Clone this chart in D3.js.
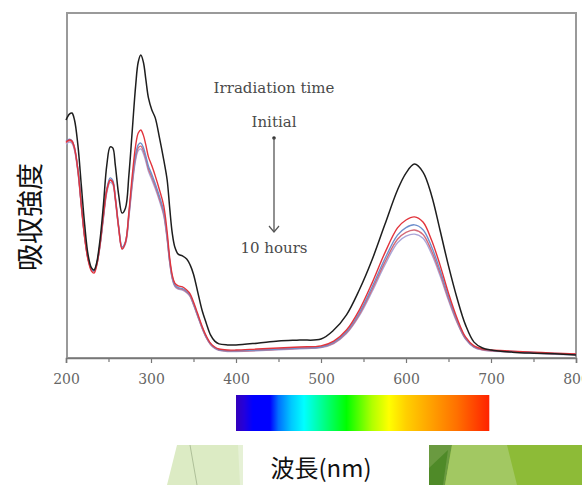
<!DOCTYPE html>
<html><head><meta charset="utf-8">
<script src="https://cdn.jsdelivr.net/npm/d3@7"></script>
<style>html,body{margin:0;padding:0;background:#fff;}svg{display:block;}</style>
</head><body>
<svg id="c" width="582" height="485"></svg>
<script>
// ---- data ----
const wavelengths = [200,204,207,210,214,218,222,226,230,233,236,240,244,248,252,255,258,262,266,270,274,278,282,285,288,291,294,297,301,305,310,315,319,322,325,328,332,337,342,346,350,355,360,365,370,375,380,390,400,425,450,475,500,515,530,545,560,575,590,600,610,620,630,640,650,660,670,680,690,700,725,750,775,800];
const absInitial = [0.690,0.707,0.710,0.690,0.617,0.501,0.386,0.299,0.261,0.255,0.275,0.342,0.443,0.559,0.612,0.609,0.559,0.472,0.420,0.435,0.530,0.661,0.791,0.858,0.878,0.858,0.806,0.754,0.719,0.696,0.638,0.574,0.516,0.435,0.362,0.322,0.301,0.296,0.287,0.270,0.243,0.191,0.139,0.101,0.067,0.049,0.041,0.038,0.038,0.043,0.049,0.052,0.055,0.081,0.125,0.197,0.284,0.386,0.487,0.536,0.562,0.539,0.472,0.371,0.267,0.174,0.096,0.046,0.029,0.023,0.017,0.014,0.012,0.009];
const absRed = [0.626,0.632,0.629,0.609,0.545,0.443,0.348,0.284,0.252,0.246,0.267,0.328,0.414,0.487,0.516,0.510,0.464,0.377,0.316,0.336,0.423,0.530,0.617,0.652,0.661,0.646,0.617,0.583,0.557,0.528,0.487,0.441,0.365,0.290,0.241,0.217,0.209,0.206,0.197,0.186,0.162,0.128,0.093,0.064,0.043,0.032,0.026,0.023,0.023,0.026,0.029,0.032,0.035,0.049,0.081,0.139,0.217,0.304,0.377,0.400,0.409,0.394,0.342,0.270,0.188,0.116,0.061,0.035,0.026,0.023,0.020,0.017,0.014,0.012];
const absBlue = [0.628,0.634,0.630,0.610,0.548,0.448,0.352,0.290,0.258,0.253,0.272,0.330,0.412,0.490,0.522,0.515,0.468,0.382,0.322,0.338,0.418,0.515,0.590,0.618,0.623,0.610,0.585,0.556,0.532,0.505,0.468,0.425,0.352,0.282,0.235,0.212,0.204,0.201,0.193,0.182,0.158,0.124,0.090,0.061,0.041,0.030,0.024,0.021,0.021,0.023,0.026,0.029,0.032,0.045,0.076,0.131,0.205,0.287,0.356,0.378,0.386,0.372,0.323,0.255,0.178,0.110,0.058,0.033,0.025,0.022,0.019,0.016,0.013,0.011];
const absPink = [0.624,0.630,0.626,0.606,0.543,0.444,0.350,0.288,0.257,0.252,0.270,0.327,0.408,0.484,0.515,0.509,0.462,0.378,0.319,0.335,0.413,0.508,0.582,0.609,0.614,0.601,0.577,0.548,0.524,0.498,0.461,0.418,0.347,0.279,0.232,0.210,0.202,0.199,0.191,0.180,0.156,0.122,0.088,0.060,0.040,0.029,0.023,0.020,0.020,0.022,0.025,0.028,0.031,0.043,0.073,0.126,0.198,0.277,0.344,0.364,0.371,0.358,0.311,0.246,0.172,0.106,0.056,0.032,0.024,0.021,0.018,0.015,0.012,0.010];
const absLavender = [0.620,0.626,0.622,0.602,0.539,0.440,0.347,0.286,0.256,0.251,0.268,0.324,0.404,0.479,0.509,0.503,0.457,0.374,0.316,0.331,0.408,0.502,0.575,0.601,0.606,0.593,0.569,0.541,0.517,0.491,0.455,0.412,0.343,0.276,0.230,0.208,0.200,0.197,0.189,0.178,0.154,0.120,0.087,0.059,0.039,0.028,0.022,0.019,0.019,0.021,0.024,0.027,0.030,0.042,0.071,0.122,0.192,0.269,0.334,0.353,0.359,0.347,0.302,0.239,0.167,0.103,0.055,0.031,0.023,0.020,0.017,0.014,0.011,0.009];
const seriesNames = ["10 h (lavender)","8 h","6 h","2 h","Initial"];
const seriesColors = ["#aaa6d8","#d46a78","#6e8fcc","#e2343c","#1e1e1e"];
const xTicks = [200,300,400,500,600,700,800];
const xMinorTicks = [250,350,450,550,650,750];
const spectrumNm = [400,410,420,440,450,465,480,500,530,560,580,600,630,660,698];
const spectrumColors = ["#3300bb","#2200dd","#0000ff","#0000ff","#0070ff","#00c8ff","#00ffff","#00ff99","#00ff00","#b0ff00","#ffff00","#ffd000","#ffa000","#ff7000","#ff2200"];
const yLabel = "吸収強度";
const xLabel = "波長(nm)";
const annTitle = "Irradiation time", annStart = "Initial", annEnd = "10 hours";

// ---- layout ----
const svg = d3.select("#c");
const x = d3.scaleLinear().domain([200, 800]).range([66, 576]);
const y = d3.scaleLinear().domain([0, 1]).range([358, 13]);

// decorative background shapes (slide theme)
const deco = svg.append("g");
deco.append("polygon").attr("points","177,445 243,445 243,485 167,485").attr("fill","#dcebc4");
deco.append("polygon").attr("points","238,445 243,445 243,485 240,485").attr("fill","#e6f1d6");
deco.append("line").attr("x1",190).attr("y1",445).attr("x2",197).attr("y2",485).attr("stroke","#aebf98").attr("stroke-width",1);
deco.append("rect").attr("x",429).attr("y",445).attr("width",153).attr("height",40).attr("fill","#8dbb37");
deco.append("polygon").attr("points","429,445 452,445 445,485 429,485").attr("fill","#6a9a40");
deco.append("polygon").attr("points","429,468 448,450 443,485 429,485").attr("fill","#4f8a28");
deco.append("polygon").attr("points","452,445 507,445 517,485 445,485").attr("fill","#a2c862");

// frame
svg.append("rect").attr("x",67).attr("y",13).attr("width",509).attr("height",345)
  .attr("fill","none").attr("stroke","#9a9a9a").attr("stroke-width",2);

// x axis
const gx = svg.append("g").attr("transform","translate(0,358)");
gx.call(d3.axisBottom(x).tickValues(xTicks).tickSize(5).tickFormat(d3.format("d")));
gx.append("g").call(d3.axisBottom(x).tickValues(xMinorTicks).tickSize(4).tickFormat(""))
  .select(".domain").remove();
gx.selectAll(".domain").attr("stroke","#777").attr("stroke-width",1.6);
gx.selectAll(".tick line").attr("stroke","#777").attr("stroke-width",1.2);
gx.selectAll(".tick text").attr("font-family","DejaVu Serif, serif").attr("font-size",14)
  .attr("fill","#666").attr("dy","0.9em").attr("y",13);

// curves
const allSeries = [absLavender, absPink, absBlue, absRed, absInitial];
const line = d3.line().x((d,i)=>x(wavelengths[i])).y(d=>y(d)).curve(d3.curveCatmullRom.alpha(0.5));
svg.append("g").selectAll("path").data(allSeries).join("path")
  .attr("d", d=>line(d)).attr("fill","none")
  .attr("stroke",(d,i)=>seriesColors[i])
  .attr("stroke-width",(d,i)=> i===4 ? 1.5 : 1.4)
  .attr("stroke-linejoin","round");

// annotation
const serif = "DejaVu Serif, serif";
svg.append("text").attr("x",274).attr("y",93).attr("text-anchor","middle")
  .attr("font-family",serif).attr("font-size",15).attr("fill","#4a4a4a").text(annTitle);
svg.append("text").attr("x",274).attr("y",127).attr("text-anchor","middle")
  .attr("font-family",serif).attr("font-size",15).attr("fill","#4a4a4a").text(annStart);
svg.append("text").attr("x",274).attr("y",253).attr("text-anchor","middle")
  .attr("font-family",serif).attr("font-size",15).attr("fill","#4a4a4a").text(annEnd);
svg.append("circle").attr("cx",274).attr("cy",138).attr("r",1.8).attr("fill","#333");
svg.append("line").attr("x1",274).attr("y1",138).attr("x2",274).attr("y2",232)
  .attr("stroke","#555").attr("stroke-width",1.3);
svg.append("path").attr("d","M269,226 L274,232 L279,226").attr("fill","none")
  .attr("stroke","#555").attr("stroke-width",1.2);

// spectrum color bar
const defs = svg.append("defs");
const grad = defs.append("linearGradient").attr("id","spec").attr("x1","0%").attr("x2","100%");
const x0 = x(spectrumNm[0]), x1 = x(spectrumNm[spectrumNm.length-1]);
grad.selectAll("stop").data(spectrumNm).join("stop")
  .attr("offset",d=>((x(d)-x0)/(x1-x0)*100)+"%")
  .attr("stop-color",(d,i)=>spectrumColors[i]);
svg.append("rect").attr("x",x0).attr("y",395).attr("width",x1-x0).attr("height",36).attr("fill","url(#spec)");

// axis labels
svg.append("text").attr("transform","translate(40,217) rotate(-90)").attr("text-anchor","middle")
  .attr("font-family","Noto Sans CJK JP, sans-serif").attr("font-size",27).attr("fill","#111").text(yLabel);
svg.append("text").attr("x",321).attr("y",477).attr("text-anchor","middle")
  .attr("font-family","Noto Sans CJK JP, sans-serif").attr("font-size",24).attr("fill","#111").text(xLabel);
</script>
</body></html>
